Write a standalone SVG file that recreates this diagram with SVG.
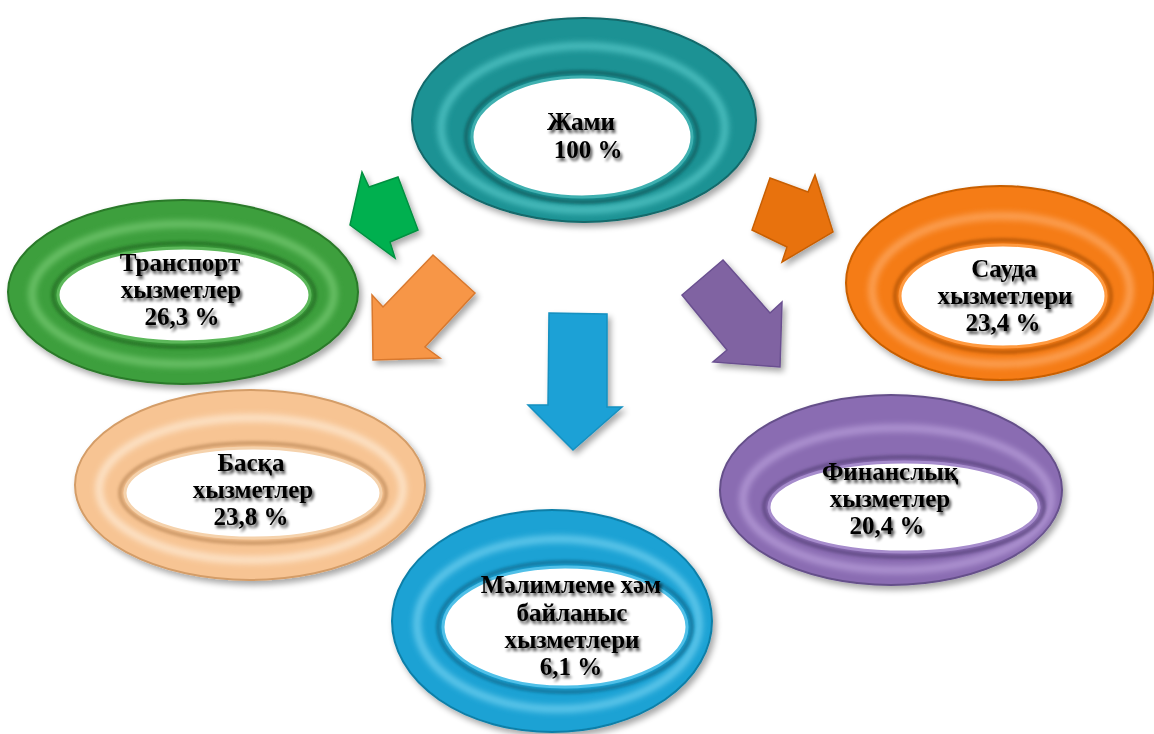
<svg xmlns="http://www.w3.org/2000/svg" width="1154" height="734" viewBox="0 0 1154 734">
<defs>
<filter id="ts" x="-20%" y="-40%" width="140%" height="180%">
<feGaussianBlur in="SourceAlpha" stdDeviation="1.8" result="b"/>
<feOffset in="b" dx="2" dy="2.5" result="o"/>
<feComponentTransfer in="o" result="s"><feFuncA type="linear" slope="0.7"/></feComponentTransfer>
<feMerge><feMergeNode in="s"/><feMergeNode in="SourceGraphic"/></feMerge>
</filter>
<filter id="ds" x="-10%" y="-10%" width="125%" height="125%">
<feGaussianBlur in="SourceAlpha" stdDeviation="3" result="b"/>
<feOffset in="b" dx="3" dy="4" result="o"/>
<feComponentTransfer in="o" result="s"><feFuncA type="linear" slope="0.35"/></feComponentTransfer>
<feMerge><feMergeNode in="s"/><feMergeNode in="SourceGraphic"/></feMerge>
</filter>
<filter id="blur" x="-10%" y="-10%" width="120%" height="120%"><feGaussianBlur stdDeviation="3"/></filter>
<filter id="blur2" x="-10%" y="-10%" width="120%" height="120%"><feGaussianBlur stdDeviation="1.5"/></filter>
</defs>
<style>
text{font-family:"Liberation Serif","Times New Roman",serif;font-weight:bold;font-size:25px;fill:#000;text-anchor:middle;}
.lbl{filter:url(#ts);}
.hole{fill:#fff;stroke-width:3;}
.hl{fill:none;stroke-width:7;opacity:0.75;filter:url(#blur);}
.edge{fill:none;stroke-width:4;opacity:0.6;filter:url(#blur2);}
.arrow{filter:url(#ds);stroke-width:1.5;stroke-linejoin:miter;}
</style>

<g id="connectors">
<polygon class="arrow" fill="#00b050" stroke="#009040" points="362,172 369,187 398,177 418,230 390,242 395,258 350,225"/>
<polygon class="arrow" fill="#f79646" stroke="#d8782e" points="433,255 475,293 425,347 440,358 373,360 372,295 383,307"/>
<polygon class="arrow" fill="#1ba1d6" stroke="#1590c0" points="549,313 607,314 607,407 622,407 573,450 528,405 548,405"/>
<polygon class="arrow" fill="#e8720c" stroke="#c85f05" points="770,178 808,192 815,175 833,232 782,262 787,247 752,230"/>
<polygon class="arrow" fill="#8064a2" stroke="#6a5090" points="723,260 770,313 782,302 780,367 713,362 727,350 682,295"/>
</g>

<g id="node-total">
<ellipse cx="584" cy="120" rx="172" ry="102" fill="#1c9294" stroke="#12696b" stroke-width="2" filter="url(#ds)"/>
<ellipse class="hl" cx="583" cy="128" rx="142" ry="82" stroke="#5ed0d0"/>
<ellipse class="edge" cx="582" cy="137" rx="116" ry="65" stroke="#0b4f51"/>
<ellipse class="hole" cx="582" cy="137" rx="110" ry="60" stroke="#3fb0b0"/>
<g class="lbl"><text x="581" y="130">Жами</text><text x="588" y="158">100 %</text></g>
</g>

<g id="node-transport">
<ellipse cx="183" cy="292" rx="175" ry="92" fill="#3e9f3c" stroke="#2a7a29" stroke-width="2" filter="url(#ds)"/>
<ellipse class="hl" cx="183" cy="294" rx="151" ry="70" stroke="#7fd07a"/>
<ellipse class="edge" cx="184" cy="295" rx="131" ry="52" stroke="#1f5f1e"/>
<ellipse class="hole" cx="184" cy="295" rx="126" ry="47" stroke="#5cb85a"/>
<g class="lbl"><text x="180" y="271">Транспорт</text><text x="181" y="298">хызметлер</text><text x="182" y="325">26,3 %</text></g>
</g>

<g id="node-trade">
<ellipse cx="1000" cy="283" rx="154" ry="97" fill="#f57b12" stroke="#c85f05" stroke-width="2" filter="url(#ds)"/>
<ellipse class="hl" cx="1001" cy="290" rx="129" ry="74" stroke="#ffb070"/>
<ellipse class="edge" cx="1003" cy="296" rx="108" ry="56" stroke="#a04800"/>
<ellipse class="hole" cx="1003" cy="296" rx="103" ry="51" stroke="#ff9a40"/>
<g class="lbl"><text x="1004" y="277">Сауда</text><text x="1005" y="304">хызметлери</text><text x="1003" y="331">23,4 %</text></g>
</g>

<g id="node-finance">
<ellipse cx="891" cy="490" rx="171" ry="95" fill="#8a6cb2" stroke="#65508a" stroke-width="2" filter="url(#ds)"/>
<ellipse class="hl" cx="897" cy="499" rx="154" ry="71" stroke="#bfa6e0"/>
<ellipse class="edge" cx="904" cy="507" rx="140" ry="50" stroke="#4e3a70"/>
<ellipse class="hole" cx="904" cy="507" rx="135" ry="45" stroke="#a68ccc"/>
<g class="lbl"><text x="890" y="480">Финанслық</text><text x="890" y="507">хызметлер</text><text x="887" y="534">20,4 %</text></g>
</g>

<g id="node-other">
<ellipse cx="250" cy="485" rx="175" ry="95" fill="#f7c493" stroke="#d49d68" stroke-width="2" filter="url(#ds)"/>
<ellipse class="hl" cx="251" cy="489" rx="152" ry="71" stroke="#fff0de"/>
<ellipse class="edge" cx="253" cy="493" rx="133" ry="50" stroke="#b48050"/>
<ellipse class="hole" cx="253" cy="493" rx="128" ry="45" stroke="#f5d2ac"/>
<g class="lbl"><text x="251" y="471">Басқа</text><text x="253" y="498">хызметлер</text><text x="251" y="525">23,8 %</text></g>
</g>

<g id="node-info">
<ellipse cx="552" cy="621" rx="160" ry="111" fill="#1aa2d4" stroke="#0f7fa8" stroke-width="2" filter="url(#ds)"/>
<ellipse class="hl" cx="558" cy="624" rx="141" ry="85" stroke="#7ed8f5"/>
<ellipse class="edge" cx="565" cy="627" rx="127" ry="65" stroke="#0a5f80"/>
<ellipse class="hole" cx="565" cy="627" rx="122" ry="60" stroke="#50c0e8"/>
<g class="lbl"><text x="571" y="593">Мәлимлеме хәм</text><text x="572" y="621">байланыс</text><text x="572" y="648">хызметлери</text><text x="571" y="675">6,1 %</text></g>
</g>
</svg>
